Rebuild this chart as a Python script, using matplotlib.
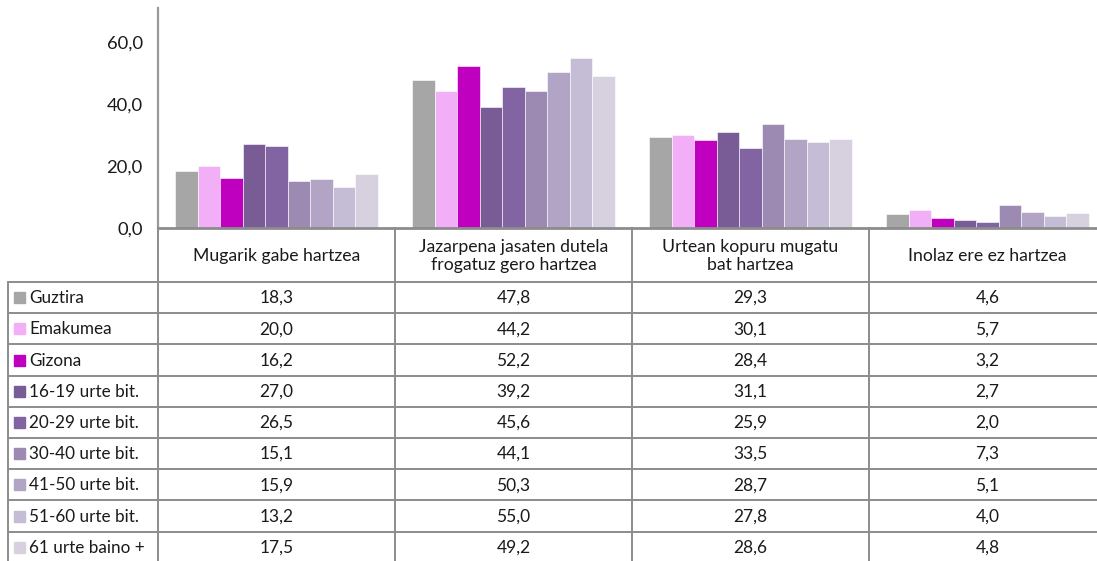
import matplotlib
matplotlib.use("Agg")
import matplotlib.pyplot as plt
from matplotlib.patches import Rectangle

plt.rcParams['font.family'] = ['Lato', 'DejaVu Sans']

# datuak
categories = ['Mugarik gabe hartzea',
              'Jazarpena jasaten dutela\nfrogatuz gero hartzea',
              'Urtean kopuru mugatu\nbat hartzea',
              'Inolaz ere ez hartzea']
series = ['Guztira', 'Emakumea', 'Gizona', '16-19 urte bit.', '20-29 urte bit.',
          '30-40 urte bit.', '41-50 urte bit.', '51-60 urte bit.', '61 urte baino +']
values = [
    [18.3, 47.8, 29.3, 4.6],
    [20.0, 44.2, 30.1, 5.7],
    [16.2, 52.2, 28.4, 3.2],
    [27.0, 39.2, 31.1, 2.7],
    [26.5, 45.6, 25.9, 2.0],
    [15.1, 44.1, 33.5, 7.3],
    [15.9, 50.3, 28.7, 5.1],
    [13.2, 55.0, 27.8, 4.0],
    [17.5, 49.2, 28.6, 4.8],
]
colors = ['#a6a6a6', '#f3aef8', '#bf00bf', '#795c96', '#8264a3',
          '#9d8ab2', '#b1a4c5', '#c5bcd5', '#d7d1df']
yticks = [0, 20, 40, 60]

W, H = 1097, 561
fig = plt.figure(figsize=(W / 100, H / 100), dpi=100)

# pixel layout
x_axis, y_zero, y_top = 158, 228, 8
col_w = 237
x_right = x_axis + col_w * len(categories)
lc = '#8c8c8c'
lw = 1.4

ax = fig.add_axes([x_axis / W, (H - y_zero) / H, (x_right - x_axis) / W, (y_zero - y_top) / H])
n = len(series)
bw = 0.857 / n
for i, (name, vals) in enumerate(zip(series, values)):
    xs = [j - 0.857 / 2 + bw * (i + 0.5) for j in range(len(categories))]
    ax.bar(xs, vals, width=bw, color=colors[i], edgecolor='white', linewidth=0.4, zorder=2)
ax.set_xlim(-0.5, len(categories) - 0.5)
ax.set_ylim(0, 71)
ax.set_yticks(yticks)
ax.set_yticklabels([f"{t:.1f}".replace('.', ',') for t in yticks], fontsize=13.2, color='#1a1a1a')
ax.tick_params(axis='y', length=0, pad=11)
ax.set_xticks([])
for s in ['top', 'right', 'bottom']:
    ax.spines[s].set_visible(False)
ax.spines['left'].set_color('#999999')
ax.spines['left'].set_linewidth(1.6)

# taula
tab = fig.add_axes([0, 0, 1, 1])
tab.set_xlim(0, W)
tab.set_ylim(H, 0)
tab.axis('off')
tab.patch.set_alpha(0)

x_left = 8
row_h = 31.2
y_head = 282
rows_y = [y_head + row_h * k for k in range(n + 1)]

tab.plot([x_axis, W], [y_zero, y_zero], color=lc, lw=2, solid_capstyle='butt')
for y in rows_y:
    tab.plot([x_left, W], [y, y], color=lc, lw=lw, solid_capstyle='butt')
tab.plot([x_left, x_left], [y_head, H], color=lc, lw=lw)
tab.plot([x_axis, x_axis], [y_zero, H], color=lc, lw=lw)
for j in range(1, len(categories) + 1):
    xc = x_axis + col_w * j
    tab.plot([xc, xc], [y_zero, H], color=lc, lw=lw)

for j, cat in enumerate(categories):
    xc = x_axis + col_w * (j + 0.5)
    tab.text(xc, (y_zero + y_head) / 2 + 1, cat, ha='center', va='center',
             fontsize=12.7, color='#1a1a1a', linespacing=1.1)

for i, name in enumerate(series):
    yc = rows_y[i] + row_h / 2
    tab.add_patch(Rectangle((14, yc - 5.5), 11, 11, color=colors[i]))
    tab.text(29, yc + 0.5, name, ha='left', va='center', fontsize=12.3, color='#1a1a1a')
    for j in range(len(categories)):
        xc = x_axis + col_w * (j + 0.5)
        tab.text(xc, yc + 0.5, f"{values[i][j]:.1f}".replace('.', ','), ha='center',
                 va='center', fontsize=12.5, color='#1a1a1a')

fig.savefig('out.png', dpi=100)
